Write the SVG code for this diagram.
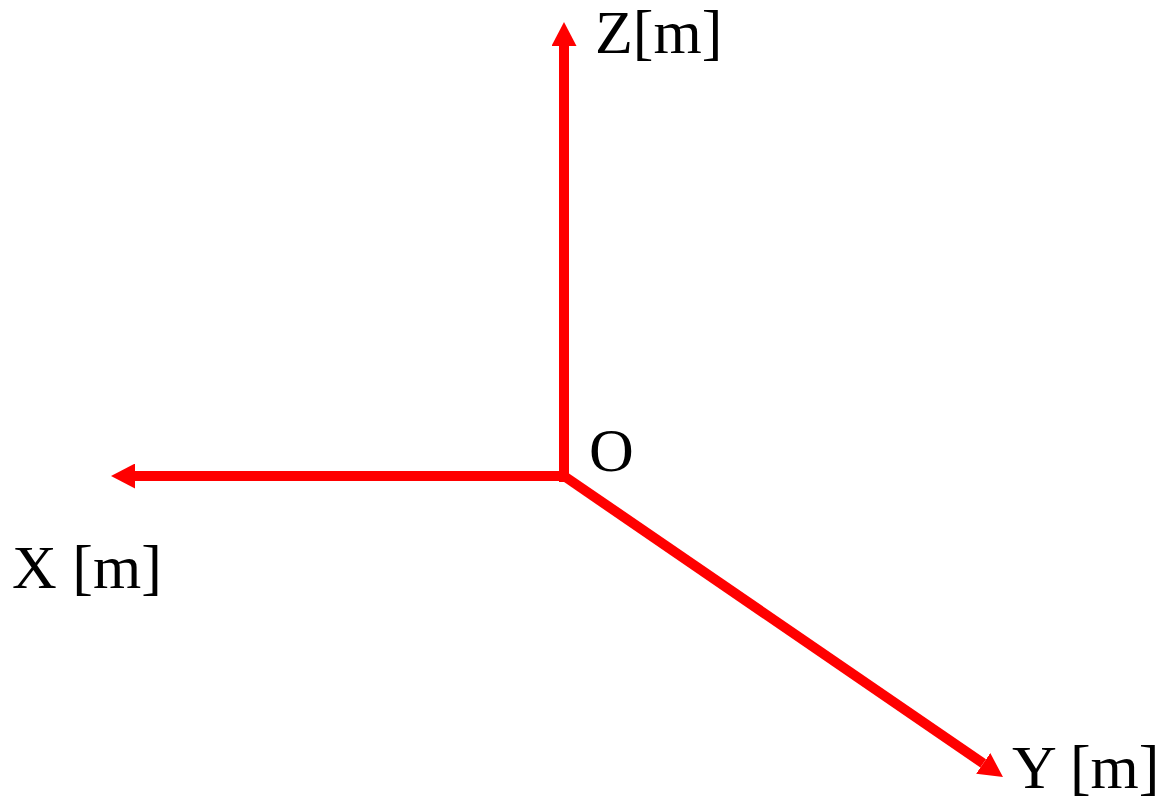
<svg xmlns="http://www.w3.org/2000/svg" width="1164" height="802" viewBox="0 0 1164 802">
<style>
.axis{stroke:#ff0000;stroke-width:10;fill:none;marker-end:url(#head)}
.lbl{font-family:"Liberation Serif","Times New Roman",serif;font-size:62px;fill:#000}
</style>
<defs>
<marker id="head" markerUnits="userSpaceOnUse" viewBox="0 0 24 25" markerWidth="24" markerHeight="25" refX="0" refY="12.5" orient="auto">
<path d="M0,0 L24,12.5 L0,25 Z" fill="#ff0000"/>
</marker>
</defs>
<rect width="1164" height="802" fill="#fff"/>
<g id="connectors">
<path id="z-axis" class="axis" d="M564,482 L564,46"/>
<path id="x-axis" class="axis" d="M569,476 L135,476"/>
<path id="y-axis" class="axis" d="M564,476 L983.2,763.4"/>
</g>
<g id="label-z"><text class="lbl" x="595" y="53">Z[m]</text></g>
<g id="label-o"><text class="lbl" x="589" y="471">O</text></g>
<g id="label-x"><text class="lbl" x="12" y="588">X [m]</text></g>
<g id="label-y"><text class="lbl" x="1012" y="788">Y [m]</text></g>
</svg>
